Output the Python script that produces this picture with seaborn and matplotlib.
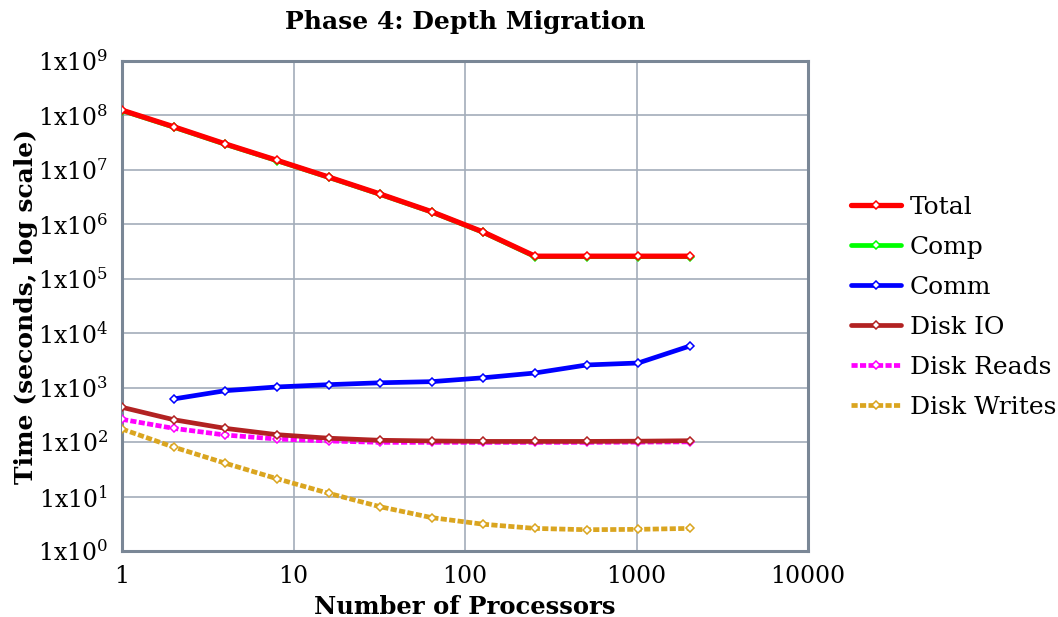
import numpy as np
import pandas as pd
import matplotlib
matplotlib.use("Agg")
import matplotlib.pyplot as plt
import seaborn as sns
from matplotlib.ticker import FixedLocator, FuncFormatter, NullLocator

# ---- data ----
processors = [1, 2, 4, 8, 16, 32, 64, 128, 256, 512, 1024, 2048]
total = [1.25e8, 6.2e7, 3.0e7, 1.5e7, 7.4e6, 3.6e6, 1.7e6, 7.2e5, 2.6e5, 2.6e5, 2.6e5, 2.6e5]
comp = [1.23e8, 6.1e7, 2.95e7, 1.48e7, 7.3e6, 3.55e6, 1.68e6, 7.1e5, 2.55e5, 2.55e5, 2.55e5, 2.55e5]
comm = [np.nan, 620, 880, 1030, 1135, 1230, 1290, 1520, 1860, 2610, 2840, 5830]
disk_io = [436, 258, 179, 137, 118, 108, 105, 103, 103, 103, 104, 106]
disk_reads = [262, 179, 135, 114, 105, 99, 99, 99, 99, 99, 100, 101]
disk_writes = [174, 81, 41, 21.3, 11.5, 6.5, 4.1, 3.1, 2.6, 2.46, 2.5, 2.6]

series_names = ["Total", "Comp", "Comm", "Disk IO", "Disk Reads", "Disk Writes"]
series_values = [total, comp, comm, disk_io, disk_reads, disk_writes]
colors = ["#ff0000", "#00ff00", "#0000ff", "#b22222", "#ff00ff", "#daa520"]
zorders = [6, 5, 4, 3.5, 3.2, 3]

title = "Phase 4: Depth Migration"
xlabel = "Number of Processors"
ylabel = "Time (seconds, log scale)"
x_ticks = [1, 10, 100, 1000, 10000]
y_exps = list(range(0, 10))

sns.set_theme(style="white")
plt.rcParams["font.family"] = ["DejaVu Serif"]
plt.rcParams["mathtext.fontset"] = "dejavuserif"
plt.rcParams["text.color"] = "black"
plt.rcParams["axes.labelcolor"] = "black"

fig = plt.figure(figsize=(10.58, 6.17), dpi=100)
ax = fig.add_axes([122 / 1058, 1 - 551 / 617, (808 - 122) / 1058, (551 - 61) / 617])

grid_col = "#a3adba"
spine_col = "#7a8796"

rows = []
for name, vals in zip(series_names, series_values):
    for p, v in zip(processors, vals):
        rows.append({"Processors": p, "Time": v, "Series": name})
df = pd.DataFrame(rows)

for name, col, z in zip(series_names, colors, zorders):
    sub = df[df["Series"] == name].dropna()
    dotted = name in ("Disk Reads", "Disk Writes")
    sns.lineplot(data=sub, x="Processors", y="Time", ax=ax, color=col,
                 linewidth=3.8 if name == "Total" else 3.4,
                 marker="D", markersize=4.5, markerfacecolor="white",
                 markeredgecolor=col, markeredgewidth=1.1,
                 label=name, zorder=z)
    line = ax.get_lines()[-1]
    if dotted:
        line.set_linestyle((0, (1.3, 0.5)))
        line.set_dash_capstyle("butt")

ax.set_xscale("log")
ax.set_yscale("log")
ax.set_xlim(1, 10000)
ax.set_ylim(1, 1e9)

ax.xaxis.set_major_locator(FixedLocator(x_ticks))
ax.xaxis.set_minor_locator(NullLocator())
ax.xaxis.set_major_formatter(FuncFormatter(lambda v, p: f"{int(round(v))}"))
ax.yaxis.set_major_locator(FixedLocator([10.0 ** e for e in y_exps]))
ax.yaxis.set_minor_locator(NullLocator())
ax.yaxis.set_major_formatter(FuncFormatter(lambda v, p: r"1x10$^{%d}$" % int(round(np.log10(v)))))

ax.grid(True, which="major", color=grid_col, linewidth=1.2)
ax.set_axisbelow(True)
for s in ax.spines.values():
    s.set_color(spine_col)
    s.set_linewidth(2.2)
    s.set_visible(True)

ax.tick_params(axis="both", which="major", direction="out", length=7, width=1.5,
               color="black", labelsize=17, labelcolor="black", pad=3)
ax.tick_params(axis="x", pad=3)

ax.set_title(title, fontsize=18, fontweight="bold", pad=23, color="black")
ax.set_xlabel(xlabel, fontsize=17.5, fontweight="bold", labelpad=5, color="black")
ax.set_ylabel(ylabel, fontsize=18, fontweight="bold", labelpad=0, color="black")

leg = ax.legend(loc="center left", bbox_to_anchor=(1.03, 0.497), frameon=False,
                fontsize=18, handlelength=2.0, labelspacing=0.68, handletextpad=0.35)
for t in leg.get_texts():
    t.set_color("black")

fig.savefig("out.png", dpi=100)
